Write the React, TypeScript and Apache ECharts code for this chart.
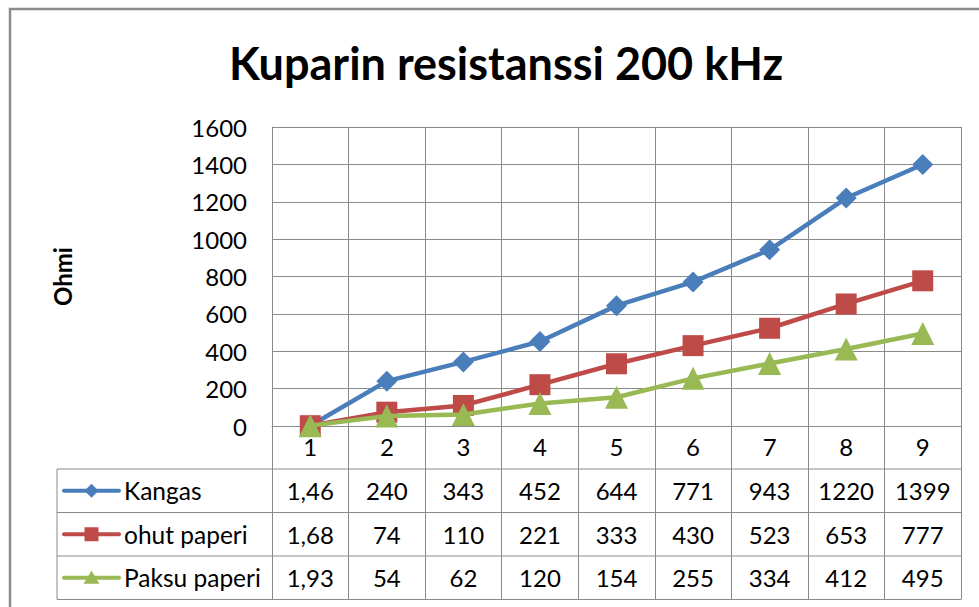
import React, { useEffect, useRef } from "react";
import * as echarts from "echarts";

const categories = ["1", "2", "3", "4", "5", "6", "7", "8", "9"];
const seriesNames = ["Kangas", "ohut paperi", "Paksu paperi"];
const kangas = [1.46, 240, 343, 452, 644, 771, 943, 1220, 1399];
const ohutPaperi = [1.68, 74, 110, 221, 333, 430, 523, 653, 777];
const paksuPaperi = [1.93, 54, 62, 120, 154, 255, 334, 412, 495];
const yTicks = { min: 0, max: 1600, interval: 200 };
const titleText = "Kuparin resistanssi 200 kHz";
const yAxisName = "Ohmi";

const FONT = "Lato, 'Open Sans', sans-serif";
const GRID_COLOR = "#8a8a8a";
const COLORS = ["#4a7ebb", "#be4b48", "#98b954"];
const SYMBOLS = ["diamond", "rect", "triangle"];
const SIZES = [21, 21, 23];

const fmt = (v: number) => String(v).replace(".", ",");

export default function App() {
  const ref = useRef<HTMLDivElement>(null);
  useEffect(() => {
    if (!ref.current) return;
    const chart = echarts.init(ref.current, undefined, { renderer: "svg" });
    const data = [kangas, ohutPaperi, paksuPaperi];
    const gridTop = 127;
    const gridBottom = 181;
    const rowH = 43.5;
    const option: any = {
      animation: false,
      backgroundColor: "#ffffff",
      title: {
        text: titleText,
        left: 501,
        top: 35,
        textAlign: "center",
        textStyle: { fontFamily: FONT, fontSize: 45, fontWeight: "bold", color: "#000" },
      },
      grid: { left: 272, right: 18, top: gridTop, bottom: gridBottom, containLabel: false },
      xAxis: {
        type: "category",
        data: categories,
        boundaryGap: true,
        axisLine: { show: true, lineStyle: { color: GRID_COLOR, width: 1 } },
        axisTick: { show: true, interval: 0, length: 43 + rowH * 3, lineStyle: { color: GRID_COLOR, width: 1 } },
        axisLabel: { fontFamily: FONT, fontSize: 24, color: "#000", margin: 8, interval: 0 },
        splitLine: { show: true, interval: 0, lineStyle: { color: GRID_COLOR, width: 1 } },
      },
      yAxis: {
        type: "value",
        min: yTicks.min,
        max: yTicks.max,
        interval: yTicks.interval,
        name: yAxisName,
        nameLocation: "middle",
        nameRotate: 90,
        nameGap: 198,
        nameTextStyle: { fontFamily: FONT, fontSize: 24, fontWeight: "bold", color: "#000" },
        axisLine: { show: true, lineStyle: { color: GRID_COLOR, width: 1 } },
        axisTick: { show: false },
        axisLabel: { fontFamily: FONT, fontSize: 24, color: "#000", margin: 25, formatter: (v: number) => String(v) },
        splitLine: { show: true, lineStyle: { color: GRID_COLOR, width: 1 } },
      },
      series: data.map((d, i) => ({
        type: "line",
        name: seriesNames[i],
        data: d,
        symbol: SYMBOLS[i],
        symbolSize: SIZES[i],
        showAllSymbol: true,
        lineStyle: { color: COLORS[i], width: 4.5 },
        itemStyle: { color: COLORS[i] },
        z: 3 + i,
      })),
    };
    chart.setOption(option);

    // Build data table from axis scale
    const centers = categories.map((_, i) => chart.convertToPixel({ xAxisIndex: 0 }, i) as number);
    const band = centers.length > 1 ? centers[1] - centers[0] : 76;
    const x1 = centers[centers.length - 1] + band / 2;
    const axisY = chart.convertToPixel({ yAxisIndex: 0 }, 0) as number;
    const tableTop = axisY + 43;
    const tableLeft = 57;
    const elements: any[] = [];
    elements.push({
      type: "rect",
      shape: { x: 10, y: 9, width: 1100, height: 800 },
      style: { fill: "none", stroke: "#8c8c8c", lineWidth: 2.5 },
      silent: true,
    });
    for (let r = 0; r <= 3; r++) {
      const y = tableTop + r * rowH;
      elements.push({
        type: "line",
        shape: { x1: tableLeft, y1: y, x2: x1, y2: y },
        style: { stroke: GRID_COLOR, lineWidth: 1 },
      });
    }
    elements.push({
      type: "line",
      shape: { x1: tableLeft, y1: tableTop, x2: tableLeft, y2: tableTop + 3 * rowH },
      style: { stroke: GRID_COLOR, lineWidth: 1 },
    });
    data.forEach((d, r) => {
      const cy = tableTop + r * rowH + rowH / 2;
      elements.push({
        type: "line",
        shape: { x1: 64, y1: cy, x2: 119, y2: cy },
        style: { stroke: COLORS[r], lineWidth: 4, lineCap: "round" },
      });
      const mx = 91.5;
      const s = 7;
      if (r === 0) {
        elements.push({
          type: "polygon",
          shape: { points: [[mx, cy - s], [mx + s, cy], [mx, cy + s], [mx - s, cy]] },
          style: { fill: COLORS[r] },
        });
      } else if (r === 1) {
        elements.push({
          type: "rect",
          shape: { x: mx - s, y: cy - s, width: 2 * s, height: 2 * s },
          style: { fill: COLORS[r] },
        });
      } else {
        elements.push({
          type: "polygon",
          shape: { points: [[mx, cy - s], [mx + s + 1, cy + s - 1], [mx - s - 1, cy + s - 1]] },
          style: { fill: COLORS[r] },
        });
      }
      elements.push({
        type: "text",
        x: 124,
        y: cy,
        style: {
          text: seriesNames[r],
          fontFamily: FONT,
          fontSize: 24.5,
          fill: "#000",
          verticalAlign: "middle",
          align: "left",
        },
      });
      d.forEach((v, i) => {
        elements.push({
          type: "text",
          x: centers[i],
          y: cy,
          style: {
            text: fmt(v),
            fontFamily: FONT,
            fontSize: 24,
            fill: "#000",
            verticalAlign: "middle",
            align: "center",
          },
        });
      });
    });
    chart.setOption({ graphic: { elements } });
    return () => chart.dispose();
  }, []);
  return <div ref={ref} style={{ width: 979, height: 607, position: "absolute", left: 0, top: 0 }} />;
}
